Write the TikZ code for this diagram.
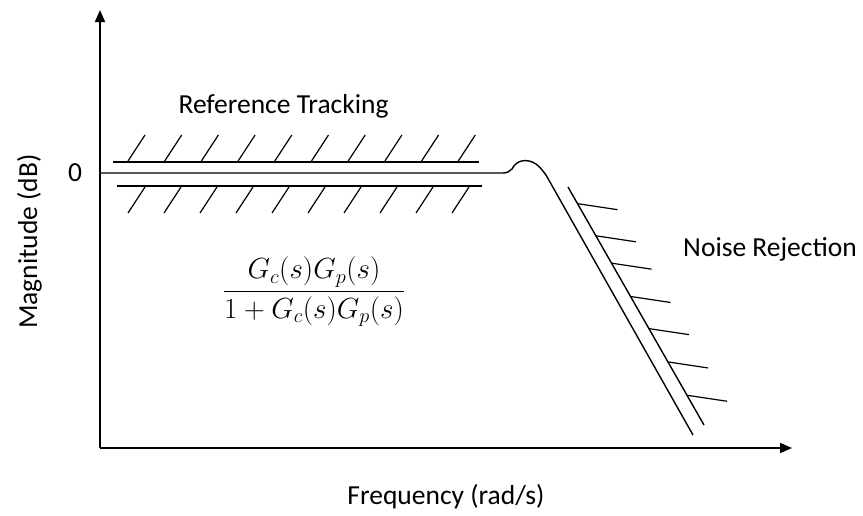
\documentclass[tikz,border=0pt]{standalone}
\usepackage{amsmath}
\usepackage{fontspec}
\setmainfont{Carlito}
\usetikzlibrary{arrows.meta,calc}

\begin{document}
\begin{tikzpicture}[x=1pt,y=-1pt,line width=1.4pt,
  axis/.style={line width=1.6pt,-{Triangle[length=12pt,width=10pt]}},
  hatch/.style={line width=1.2pt},
  txt/.style={font=\fontsize{27.5}{33}\selectfont,inner sep=0pt,anchor=base}]
\useasboundingbox (0,0) rectangle (863,515);
% the two axes
\coordinate (O) at (100,448);
\coordinate (ytop) at (100,10);
\coordinate (xend) at (792,448);
\draw[axis] (O) -- (ytop);
\draw[axis] (O) -- (xend);
% closed loop magnitude: flat at 0 dB, small peak, then roll-off
\coordinate (start) at (100,173);
\coordinate (flat) at (503,173);
\coordinate (knee) at (546,175);
\coordinate (low) at (693,435);
\draw (start) -- (flat) .. controls (508,173) and (509,171) .. (512,169)
      .. controls (516,160) and (527,158) .. (536,164)
      .. controls (540,167) and (543,171) .. (knee) -- (low);
% reference tracking band
\coordinate (ua) at (113,162);
\coordinate (ub) at (479,162);
\coordinate (la) at (117,186);
\coordinate (lb) at (482,186);
\draw (ua) -- (ub);
\draw (la) -- (lb);
\foreach \i in {0,...,9}
  \draw[hatch] (128+36.7*\i,161) -- ++(17,-26);
\foreach \i in {0,...,9}
  \draw[hatch] (128+36*\i,213) -- ++(17,-26);
% noise rejection bound
\coordinate (rtop) at (568,187);
\coordinate (rbot) at (704,425);
\draw (rtop) -- (rbot);
\foreach \t in {0.07,0.205,0.32,0.46,0.595,0.735,0.875}
  \draw[hatch] ($(rtop)!\t!(rbot)$) -- ++(40,6);
% labels
\node[txt] (reftrack) at (283.5,113.5) {Reference Tracking};
\node[txt] (noise) at (770,256) {Noise Rejection};
\node[txt] (freq) at (446,504) {Frequency (rad/s)};
\node[txt] (zero) at (75,181.5) {0};
\node[txt,rotate=90] (mag) at (37,241.5) {Magnitude (dB)};
\node[font=\fontsize{25}{30}\selectfont,inner sep=0pt,scale=1.17] (tf) at (314,292)
  {$\dfrac{G_c(s)G_p(s)}{1+G_c(s)G_p(s)}$};
\end{tikzpicture}
\end{document}
